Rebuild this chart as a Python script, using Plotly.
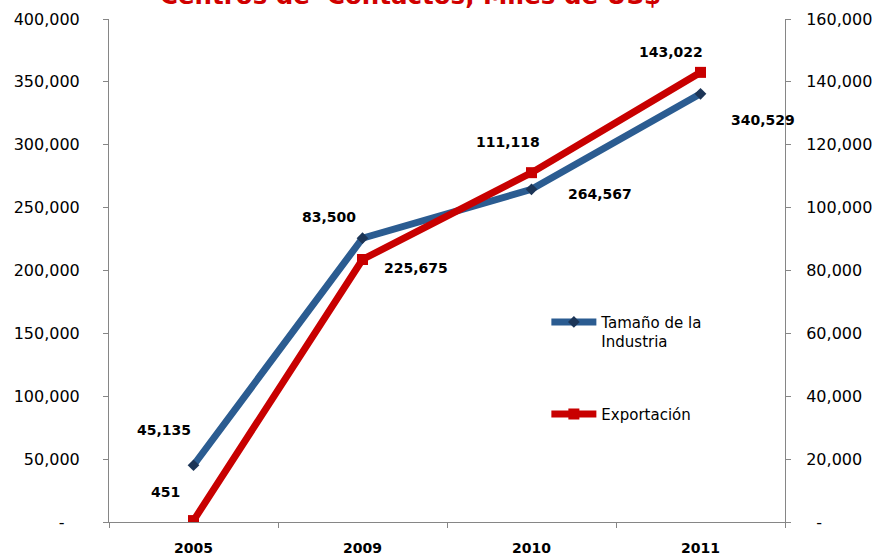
import plotly.graph_objects as go

# ---- data ----
years = ["2005", "2009", "2010", "2011"]
tamano = [45135, 225675, 264567, 340529]          # left axis
exportacion = [451, 83500, 111118, 143022]        # right axis
tamano_labels = ["45,135", "83,500", "264,567", "340,529"]
export_labels = ["451", "225,675", "111,118", "143,022"]
left_ticks = [0, 50000, 100000, 150000, 200000, 250000, 300000, 350000, 400000]
left_ticktext = ["-\u00a0\u00a0\u00a0", "50,000", "100,000", "150,000", "200,000",
                 "250,000", "300,000", "350,000", "400,000"]
right_ticks = [0, 20000, 40000, 60000, 80000, 100000, 120000, 140000, 160000]
right_ticktext = ["\u00a0\u00a0-", "20,000", "40,000", "60,000", "80,000",
                  "100,000", "120,000", "140,000", "160,000"]
title_text = "Centros de  Contactos, Miles de US$"

# label offsets (pixels) relative to points
tamano_shift = [(-30, 35), (-34, 21), (68, -5), (62, -26)]
export_shift = [(-28, 29), (53, -8), (-24, 31), (-30, 20)]

BLUE = "#2B5C91"
BLUE_DARK = "#1C3557"
RED = "#C80000"
AXIS = "#868686"

fig = go.Figure()
fig.add_trace(go.Scatter(
    x=years, y=tamano, mode="lines+markers", name="Tamaño de la<br>Industria",
    line=dict(color=BLUE, width=7),
    marker=dict(symbol="diamond", size=9, color=BLUE_DARK),
    legend="legend", yaxis="y"))
fig.add_trace(go.Scatter(
    x=years, y=exportacion, mode="lines+markers", name="Exportación",
    line=dict(color=RED, width=7),
    marker=dict(symbol="square", size=11, color=RED),
    legend="legend2", yaxis="y2"))

label_font = dict(family="DejaVu Sans", size=14, color="#000000", weight="bold")
for i, (y, t, (dx, dy)) in enumerate(zip(tamano, tamano_labels, tamano_shift)):
    fig.add_annotation(x=i, y=y, xref="x", yref="y", text=t, showarrow=False,
                       xshift=dx, yshift=dy, font=label_font)
for i, (y, t, (dx, dy)) in enumerate(zip(exportacion, export_labels, export_shift)):
    fig.add_annotation(x=i, y=y, xref="x", yref="y2", text=t, showarrow=False,
                       xshift=dx, yshift=dy, font=label_font)

fig.add_annotation(x=0.446, y=1.013, xref="paper", yref="paper", text=title_text,
                   showarrow=False, xanchor="center", yanchor="bottom",
                   font=dict(family="DejaVu Sans", size=24.5, color="#D00000", weight="bold"))

tick_font = dict(family="DejaVu Sans", size=16, color="#000000")
fig.update_layout(
    width=877, height=559,
    margin=dict(l=109, r=92, t=19, b=37, autoexpand=False),
    paper_bgcolor="white", plot_bgcolor="white",
    font=dict(family="DejaVu Sans", color="#000000"),
    xaxis=dict(type="category", tickson="boundaries", ticks="outside", ticklen=5,
               tickcolor=AXIS, showline=True, linecolor=AXIS, linewidth=1,
               showgrid=False, tickfont=dict(family="DejaVu Sans", size=14, weight="bold"),
               ticklabelstandoff=13, range=[-0.5, 3.5], automargin=False),
    yaxis=dict(range=[0, 400000], tickvals=left_ticks, ticktext=left_ticktext,
               ticks="outside", ticklen=5, tickcolor=AXIS, showline=True,
               linecolor=AXIS, linewidth=1, showgrid=False, zeroline=False,
               tickfont=tick_font, ticklabelstandoff=20, automargin=False),
    yaxis2=dict(range=[0, 160000], tickvals=right_ticks, ticktext=right_ticktext,
                overlaying="y", side="right", ticks="outside", ticklen=5,
                tickcolor=AXIS, showline=True, linecolor=AXIS, linewidth=1,
                showgrid=False, zeroline=False, tickfont=tick_font,
                ticklabelstandoff=12, automargin=False),
    legend=dict(x=0.647, y=0.43, xanchor="left", yanchor="top", valign="top",
                itemwidth=45,
                bgcolor="rgba(0,0,0,0)", font=dict(family="DejaVu Sans", size=15)),
    legend2=dict(x=0.647, y=0.247, xanchor="left", yanchor="top", itemwidth=45,
                 bgcolor="rgba(0,0,0,0)", font=dict(family="DejaVu Sans", size=15)),
    showlegend=True,
)

fig.write_html("out.html", config={"displayModeBar": False},
               post_script="document.body.style.margin='0';document.body.style.overflow='hidden';")
